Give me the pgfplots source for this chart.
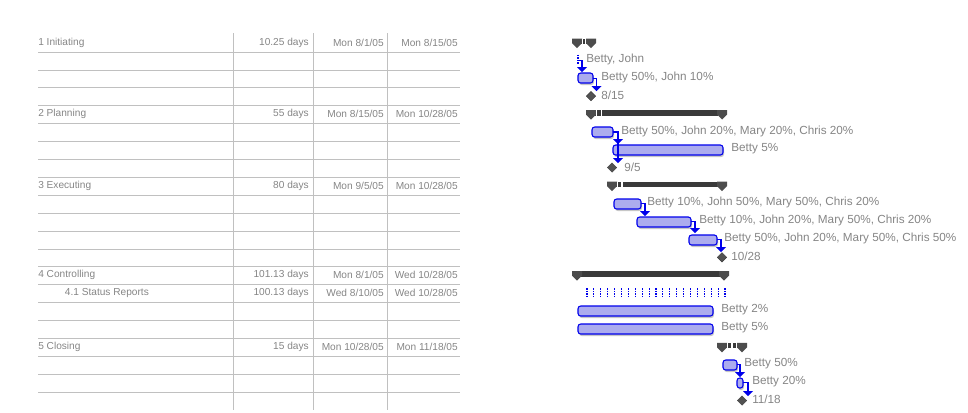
\documentclass[border=0pt]{standalone}
\usepackage{pgfplots}
\pgfplotsset{compat=1.18}
\usepackage{fontspec}
\setmainfont{Liberation Sans}
\definecolor{txt}{gray}{0.52}
\definecolor{barfill}{RGB}{172,172,238}
\definecolor{linkblue}{RGB}{0,0,235}
\definecolor{sumdark}{RGB}{58,58,58}
\definecolor{gridc}{RGB}{192,192,192}
\newcommand{\tfont}{\fontsize{7.6}{9}\selectfont}
\newcommand{\gfont}{\fontsize{8.8}{10}\selectfont}
\newcommand{\trow}[5]{%
  \node[anchor=west,inner sep=0,font=\tfont,text=txt] at (axis cs:38,#1) {#2};
  \node[anchor=east,inner sep=0,font=\tfont,text=txt] at (axis cs:309,#1) {#3};
  \node[anchor=east,inner sep=0,font=\tfont,text=txt] at (axis cs:384,#1) {#4};
  \node[anchor=east,inner sep=0,font=\tfont,text=txt] at (axis cs:458,#1) {#5};}
\newcommand{\glab}[3]{\node[anchor=west,inner sep=0,font=\gfont,text=txt] at (axis cs:#1,#2) {#3};}
\begin{document}
\begin{tikzpicture}
\begin{axis}[scale only axis, width=726pt, height=309pt,
  xmin=0, xmax=968, ymin=0, ymax=412, y dir=reverse, hide axis, clip=false,
  unbounded coords=jump,
  gridline/.style={gridc, line width=0.6pt},
  task/.style={draw=linkblue, fill=barfill, line width=0.8pt, rounded corners=2pt},
  shadow/.style={draw=none, fill=black!22, rounded corners=2pt},
  sumbar/.style={draw=none, fill=sumdark},
  cap/.style={draw=none, fill=black!70},
  gap/.style={white, line width=0.8pt},
  link/.style={linkblue, line width=0.8pt},
  ahead/.style={draw=none, fill=linkblue},
]
\coordinate (ll) at (rel axis cs:0,0);
\coordinate (ur) at (rel axis cs:1,1);
% ---- table grid ----
\addplot[gridline] coordinates {
(38,52.0) (460,52.0) (nan,nan) (38,69.9) (460,69.9) (nan,nan)
(38,87.8) (460,87.8) (nan,nan) (38,105.7) (460,105.7) (nan,nan)
(38,123.6) (460,123.6) (nan,nan) (38,141.5) (460,141.5) (nan,nan)
(38,159.4) (460,159.4) (nan,nan) (38,177.3) (460,177.3) (nan,nan)
(38,195.2) (460,195.2) (nan,nan) (38,213.1) (460,213.1) (nan,nan)
(38,231.0) (460,231.0) (nan,nan) (38,248.9) (460,248.9) (nan,nan)
(38,266.8) (460,266.8) (nan,nan) (38,284.7) (460,284.7) (nan,nan)
(38,302.6) (460,302.6) (nan,nan) (38,320.5) (460,320.5) (nan,nan)
(38,338.4) (460,338.4) (nan,nan) (38,356.3) (460,356.3) (nan,nan)
(38,374.2) (460,374.2) (nan,nan) (38,392.1) (460,392.1) (nan,nan)
(233,33) (233,410) (nan,nan) (313,33) (313,410) (nan,nan) (387,33) (387,410)
};
% ---- table text ----
\trow{42.5}{1 Initiating}{10.25 days}{Mon 8/1/05}{Mon 8/15/05}
\trow{114.1}{2 Planning}{55 days}{Mon 8/15/05}{Mon 10/28/05}
\trow{185.7}{3 Executing}{80 days}{Mon 9/5/05}{Mon 10/28/05}
\trow{275.2}{4 Controlling}{101.13 days}{Mon 8/1/05}{Wed 10/28/05}
\trow{293.1}{\hspace{20pt}4.1 Status Reports}{100.13 days}{Wed 8/10/05}{Wed 10/28/05}
\trow{346.8}{5 Closing}{15 days}{Mon 10/28/05}{Mon 11/18/05}
% ---- summary bars ----
% Initiating
\addplot[sumbar] coordinates {(581,38.5) (587,38.5) (587,44) (581,44)} --cycle;
\addplot[cap] coordinates {(572,38.5) (582,38.5) (582,43) (577,48) (572,43)} --cycle;
\addplot[cap] coordinates {(586,38.5) (596,38.5) (596,43) (591,48) (586,43)} --cycle;
\addplot[gap] coordinates {(582.3,38.5) (582.3,44) (nan,nan) (585.7,38.5) (585.7,44)};
% Planning
\addplot[sumbar] coordinates {(595,110) (718,110) (718,115.5) (595,115.5)} --cycle;
\addplot[cap] coordinates {(586,110) (596,110) (596,114.5) (591,119.5) (586,114.5)} --cycle;
\addplot[cap] coordinates {(717,110) (727,110) (727,114.5) (722,119.5) (717,114.5)} --cycle;
\addplot[gap] coordinates {(596.8,110) (596.8,115.5) (nan,nan) (601.5,110) (601.5,115.5)};
% Executing
\addplot[sumbar] coordinates {(616,181.7) (718,181.7) (718,187.2) (616,187.2)} --cycle;
\addplot[cap] coordinates {(607,181.7) (617,181.7) (617,186.2) (612,191.2) (607,186.2)} --cycle;
\addplot[cap] coordinates {(717,181.7) (727,181.7) (727,186.2) (722,191.2) (717,186.2)} --cycle;
\addplot[gap] coordinates {(617.8,181.7) (617.8,187.2) (nan,nan) (622,181.7) (622,187.2)};
% Controlling
\addplot[sumbar] coordinates {(581,271.2) (720,271.2) (720,276.7) (581,276.7)} --cycle;
\addplot[cap] coordinates {(572,271.2) (582,271.2) (582,275.7) (577,280.7) (572,275.7)} --cycle;
\addplot[cap] coordinates {(719,271.2) (729,271.2) (729,275.7) (724,280.7) (719,275.7)} --cycle;
% Closing
\addplot[sumbar] coordinates {(726,342.8) (738,342.8) (738,348.3) (726,348.3)} --cycle;
\addplot[cap] coordinates {(717,342.8) (727,342.8) (727,347.3) (722,352.3) (717,347.3)} --cycle;
\addplot[cap] coordinates {(737,342.8) (747,342.8) (747,347.3) (742,352.3) (737,347.3)} --cycle;
\addplot[gap] coordinates {(727.8,342.8) (727.8,348.3) (nan,nan) (732,342.8) (732,348.3) (nan,nan) (736.2,342.8) (736.2,348.3)};
% ---- task bar shadows ----
\addplot[shadow] coordinates {(579,75) (594,75) (594,85) (579,85)} --cycle;
\addplot[shadow] coordinates {(593,129) (614,129) (614,139) (593,139)} --cycle;
\addplot[shadow] coordinates {(614,147) (724,147) (724,157) (614,157)} --cycle;
\addplot[shadow] coordinates {(615,201) (642,201) (642,211) (615,211)} --cycle;
\addplot[shadow] coordinates {(638,219) (692,219) (692,229) (638,229)} --cycle;
\addplot[shadow] coordinates {(690,237) (718,237) (718,247) (690,247)} --cycle;
\addplot[shadow] coordinates {(579,308) (714,308) (714,318) (579,318)} --cycle;
\addplot[shadow] coordinates {(579,326) (714,326) (714,336) (579,336)} --cycle;
\addplot[shadow] coordinates {(724,362) (738,362) (738,372) (724,372)} --cycle;
\addplot[shadow] coordinates {(738,380) (744,380) (744,390) (738,390)} --cycle;
% ---- task bars ----
\addplot[task] coordinates {(578,73) (593,73) (593,83) (578,83)} --cycle;
\addplot[task] coordinates {(592,127) (613,127) (613,137) (592,137)} --cycle;
\addplot[task] coordinates {(613,145) (723,145) (723,155) (613,155)} --cycle;
\addplot[task] coordinates {(614,199) (641,199) (641,209) (614,209)} --cycle;
\addplot[task] coordinates {(637,217) (691,217) (691,227) (637,227)} --cycle;
\addplot[task] coordinates {(689,235) (717,235) (717,245) (689,245)} --cycle;
\addplot[task] coordinates {(578,306) (713,306) (713,316) (578,316)} --cycle;
\addplot[task] coordinates {(578,324) (713,324) (713,334) (578,334)} --cycle;
\addplot[task] coordinates {(723,360) (737,360) (737,370) (723,370)} --cycle;
\addplot[task] coordinates {(737,378) (743,378) (743,388) (737,388)} --cycle;
% ---- links ----
\addplot[link] coordinates {(578,60.4) (582,60.4) (582,67)};
\addplot[ahead] coordinates {(577,67) (587,67) (582,72)} --cycle;
\addplot[link] coordinates {(593,78.3) (596.5,78.3) (596.5,86)};
\addplot[ahead] coordinates {(591.5,86) (601.5,86) (596.5,91)} --cycle;
\addplot[link] coordinates {(613,132) (618,132) (618,158)};
\addplot[ahead] coordinates {(613,139) (623,139) (618,144)} --cycle;
\addplot[ahead] coordinates {(613,158) (623,158) (618,163)} --cycle;
\addplot[link] coordinates {(641,203.6) (645,203.6) (645,211)};
\addplot[ahead] coordinates {(640,211) (650,211) (645,216)} --cycle;
\addplot[link] coordinates {(691,221.5) (695,221.5) (695,228)};
\addplot[ahead] coordinates {(690,228) (700,228) (695,233)} --cycle;
\addplot[link] coordinates {(717,239.4) (721,239.4) (721,247)};
\addplot[ahead] coordinates {(716,247) (726,247) (721,252)} --cycle;
\addplot[link] coordinates {(737,364.7) (740,364.7) (740,372)};
\addplot[ahead] coordinates {(735,372) (745,372) (740,377)} --cycle;
\addplot[link] coordinates {(743,382.6) (748,382.6) (748,391)};
\addplot[ahead] coordinates {(743,391) (753,391) (748,396)} --cycle;
% ---- dotted markers (recurring task) ----
\addplot[only marks, mark=|, mark size=3.6pt, mark options={linkblue, line width=0.8pt, dash pattern=on 1pt off 0.9pt}] coordinates {
(578,59.5)
(587,293.1) (593.9,293.1) (600.8,293.1) (607.7,293.1) (614.6,293.1) (621.5,293.1) (628.4,293.1)
(635.3,293.1) (642.2,293.1) (649.1,293.1) (656,293.1) (662.9,293.1) (669.8,293.1) (676.7,293.1)
(683.6,293.1) (690.5,293.1) (697.4,293.1) (704.3,293.1) (711.2,293.1) (718.1,293.1) (725,293.1)};
% ---- milestones ----
\addplot[only marks, mark=square*, mark size=2.5pt, mark options={rotate=45, fill=black!68, draw=black!75, line width=0.3pt}] coordinates {
(591,96.2) (612,167.5) (722,257.3) (742,400.5)};
% ---- gantt labels ----
\glab{586}{59.5}{Betty, John}
\glab{601}{77.3}{Betty 50\%, John 10\%}
\glab{601}{95.2}{8/15}
\glab{621}{131}{Betty 50\%, John 20\%, Mary 20\%, Chris 20\%}
\glab{731}{148.9}{Betty 5\%}
\glab{624}{166.8}{9/5}
\glab{647}{202.6}{Betty 10\%, John 50\%, Mary 50\%, Chris 20\%}
\glab{699}{220.5}{Betty 10\%, John 20\%, Mary 50\%, Chris 20\%}
\glab{724}{238.4}{Betty 50\%, John 20\%, Mary 50\%, Chris 50\%}
\glab{731}{256.3}{10/28}
\glab{721}{310}{Betty 2\%}
\glab{721}{327.9}{Betty 5\%}
\glab{744}{363.7}{Betty 50\%}
\glab{752}{381.6}{Betty 20\%}
\glab{752}{399.5}{11/18}
\end{axis}
\pgfresetboundingbox
\path (ll) rectangle (ur);
\end{tikzpicture}
\end{document}
